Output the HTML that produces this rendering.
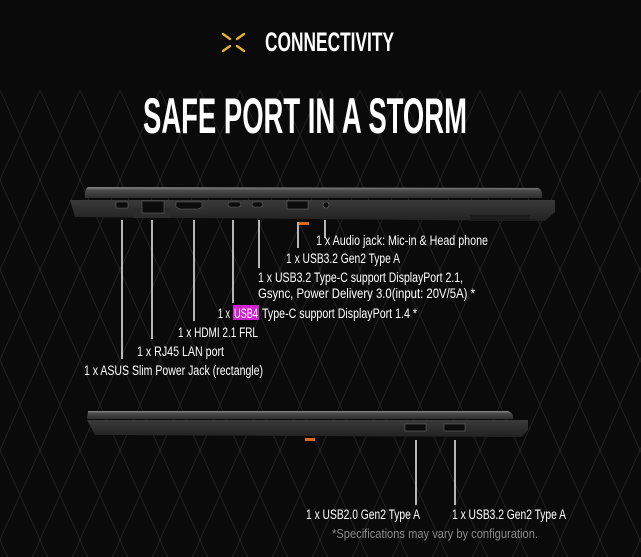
<!DOCTYPE html>
<html><head><meta charset="utf-8"><style>
html,body{margin:0;padding:0;background:#0a0a0a;}
body{width:641px;height:557px;overflow:hidden;position:relative;}
svg{position:absolute;left:0;top:0}
text{font-family:"Liberation Sans Narrow","Liberation Sans",sans-serif;}
</style></head><body>
<svg width="641" height="557" viewBox="0 0 641 557" xmlns="http://www.w3.org/2000/svg">
<defs>
<pattern id="lat" width="40" height="90" patternUnits="userSpaceOnUse">
<path d="M0 0 L20 45 L0 90 M40 0 L20 45 L40 90" stroke="#242424" stroke-width="0.8" fill="none"/>
</pattern>
<linearGradient id="lid" x1="0" y1="0" x2="0" y2="1"><stop offset="0" stop-color="#8a8a8a"/><stop offset="0.3" stop-color="#4a4a4a"/><stop offset="1" stop-color="#2e2e2e"/></linearGradient>
<linearGradient id="base" x1="0" y1="0" x2="0" y2="1"><stop offset="0" stop-color="#3a3a3a"/><stop offset="1" stop-color="#222"/></linearGradient>
</defs>
<rect width="641" height="557" fill="#0a0a0a"/>
<rect x="0" y="90" width="641" height="467" fill="url(#lat)"/>
<g stroke="#e8b030" stroke-width="2.4" stroke-linecap="round">
<line x1="223" y1="34" x2="230" y2="39"/><line x1="244" y1="34" x2="237" y2="39"/>
<line x1="223" y1="51" x2="230" y2="46"/><line x1="244" y1="51" x2="237" y2="46"/>
</g>
<text x="265" y="51" fill="#fff" font-size="27" font-weight="bold" textLength="129" lengthAdjust="spacingAndGlyphs">CONNECTIVITY</text>
<text x="143" y="133" fill="#fff" font-size="50" font-weight="bold" textLength="324" lengthAdjust="spacingAndGlyphs">SAFE PORT IN A STORM</text>
<path d="M88 187 L538 188 Q543 189 542 198 L85 198 Q84 189 88 187Z" fill="url(#lid)"/>
<path d="M70 200 L555 200 L555 212 L545 221 L75 217 Z" fill="url(#base)"/>
<rect x="470" y="215" width="60" height="6" fill="#1c1c1c"/>
<path d="M133 208 L171 208 L171 218 L133 218Z" fill="#2c2c2c"/>
<g fill="#0c0c0c" stroke="#666" stroke-width="0.6">
<rect x="116" y="202" width="12" height="6" rx="1"/>
<rect x="142" y="201" width="22" height="12"/>
<path d="M176 202 L202 202 L202 207 L198 209 L180 209 L176 207Z"/>
<rect x="228" y="202" width="13" height="5" rx="2.5"/>
<rect x="252" y="202" width="11" height="5" rx="2.5"/>
<rect x="287" y="201" width="21" height="8"/>
<circle cx="326" cy="205" r="3"/>
</g>
<rect x="299" y="222" width="10" height="3" fill="#d86a20"/>
<g stroke="#fff" stroke-width="1.4">
<line x1="122" y1="220" x2="122" y2="359"/>
<line x1="152" y1="220" x2="152" y2="339"/>
<line x1="194" y1="220" x2="194" y2="321"/>
<line x1="233" y1="220" x2="233" y2="303"/>
<line x1="259" y1="220" x2="259" y2="268"/>
<line x1="298" y1="222" x2="298" y2="248"/>
<line x1="325" y1="220" x2="325" y2="238"/>
</g>
<g fill="#fff" font-size="13.5">
<text x="316" y="245" textLength="172" lengthAdjust="spacingAndGlyphs">1 x Audio jack: Mic-in &amp; Head phone</text>
<text x="286" y="263" textLength="114" lengthAdjust="spacingAndGlyphs">1 x USB3.2 Gen2 Type A</text>
<text x="258" y="282" textLength="205" lengthAdjust="spacingAndGlyphs">1 x USB3.2 Type-C support DisplayPort 2.1,</text>
<text x="258" y="298" textLength="217" lengthAdjust="spacingAndGlyphs">Gsync, Power Delivery 3.0(input: 20V/5A) *</text>
<rect x="233" y="305" width="26" height="15" fill="#d020d0"/>
<text x="218" y="318" textLength="12" lengthAdjust="spacingAndGlyphs">1 x</text>
<text x="234" y="318" textLength="24" lengthAdjust="spacingAndGlyphs">USB4</text>
<text x="262" y="318" textLength="155" lengthAdjust="spacingAndGlyphs">Type-C support DisplayPort 1.4 *</text>
<text x="178" y="337" textLength="80" lengthAdjust="spacingAndGlyphs">1 x HDMI 2.1 FRL</text>
<text x="137" y="356" textLength="87" lengthAdjust="spacingAndGlyphs">1 x RJ45 LAN port</text>
<text x="84" y="375" textLength="179" lengthAdjust="spacingAndGlyphs">1 x ASUS Slim Power Jack (rectangle)</text>
</g>
<path d="M88 411 L508 411 Q514 413 513 419 L87 419Z" fill="url(#lid)"/>
<path d="M87 420 L528 420 L528 430 L522 437 L95 435 Z" fill="url(#base)"/>
<g fill="#0c0c0c" stroke="#666" stroke-width="0.6">
<rect x="405" y="424" width="21" height="7"/>
<rect x="444" y="424" width="21" height="7"/>
</g>
<rect x="305" y="438" width="10" height="3" fill="#d86a20"/>
<g stroke="#fff" stroke-width="1.4">
<line x1="416" y1="440" x2="416" y2="505"/>
<line x1="455" y1="440" x2="455" y2="505"/>
</g>
<g fill="#fff" font-size="13.5">
<text x="306" y="519" textLength="114" lengthAdjust="spacingAndGlyphs">1 x USB2.0 Gen2 Type A</text>
<text x="452" y="519" textLength="114" lengthAdjust="spacingAndGlyphs">1 x USB3.2 Gen2 Type A</text>
</g>
<text x="332" y="538" fill="#8a8a8a" font-size="12.5" font-family="Liberation Sans,sans-serif" textLength="206" lengthAdjust="spacingAndGlyphs">*Specifications may vary by configuration.</text>
</svg>
</body></html>
